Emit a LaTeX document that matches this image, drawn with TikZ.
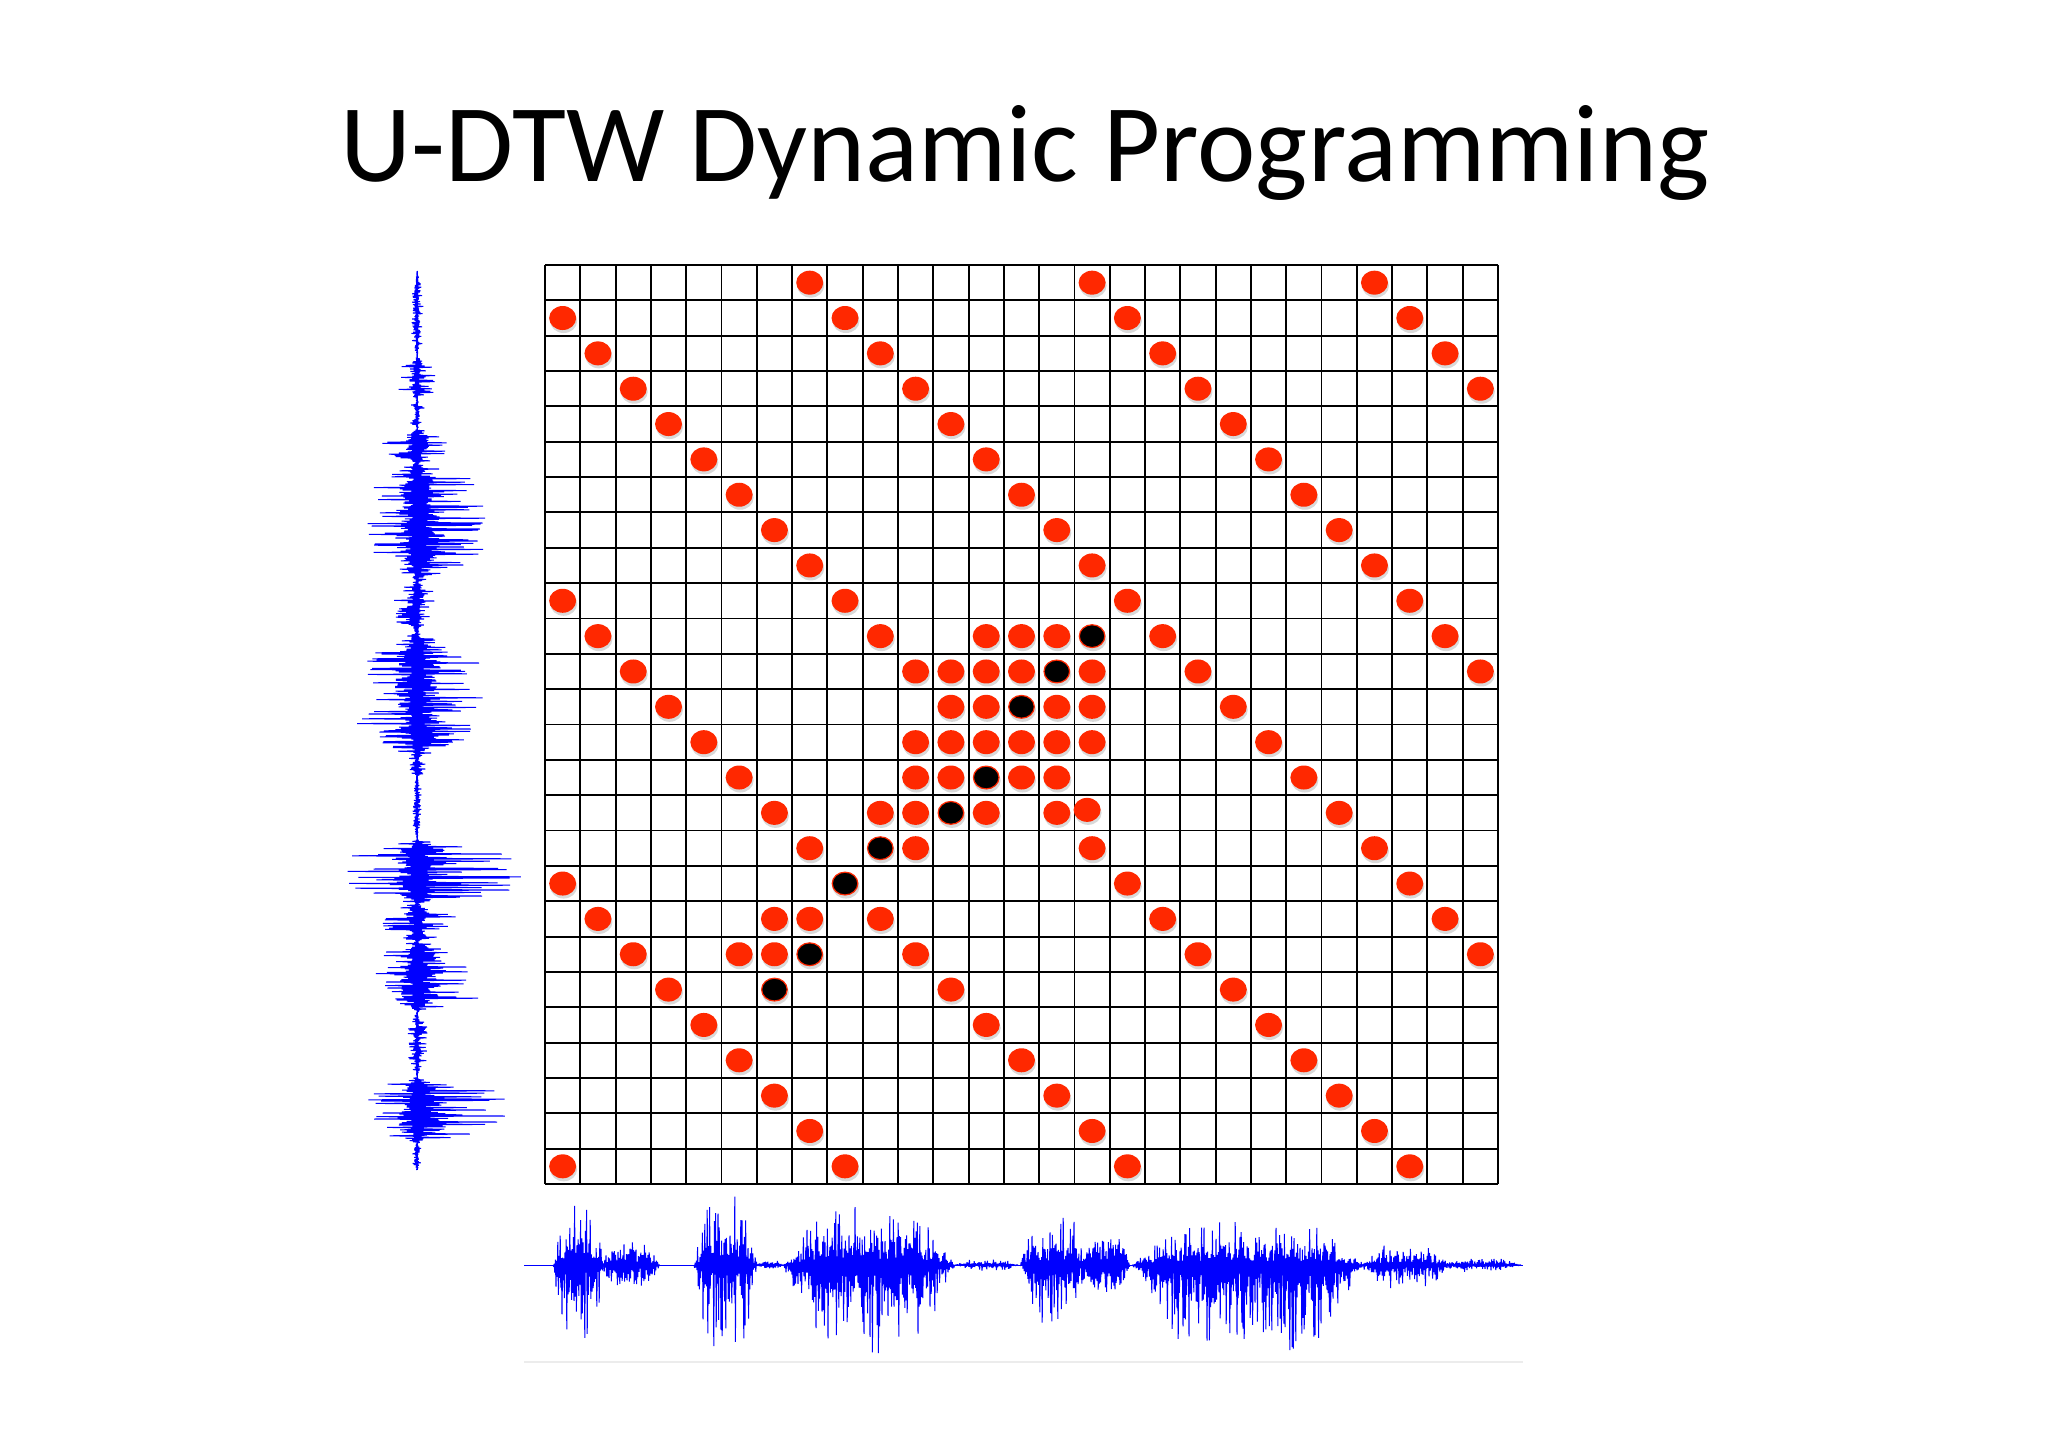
\documentclass[tikz,border=0pt]{standalone}
\usepackage{fontspec}
\setmainfont{Carlito}
\definecolor{dotred}{RGB}{255,40,0}
\definecolor{wblue}{RGB}{0,0,255}
\newcommand\dotrows{0/{7,15,23},1/{0,8,16,24},2/{1,9,17,25},3/{2,10,18,26},4/{3,11,19},5/{4,12,20},6/{5,13,21},7/{6,14,22},8/{7,15,23},9/{0,8,16,24},10/{1,9,12,13,14,17,25},11/{2,10,11,12,13,15,18,26},12/{3,11,12,14,15,19},13/{4,10,11,12,13,14,15,20},14/{5,10,11,13,14,21},15/{6,9,10,12,14,22},16/{7,10,15,23},17/{0,16,24},18/{1,6,7,9,17,25},19/{2,5,6,10,18,26},20/{3,11,19},21/{4,12,20},22/{5,13,21},23/{6,14,22},24/{7,15,23},25/{0,8,16,24}}
\newcommand\pathdots{15/10,14/11,13/12,12/14,11/15,9/16,8/17,7/19,6/20}
% bottom waveform bursts: start/end/core/spike/down-factor
\newcommand\bursthor{553/604/28/40/1.3,600/660/16/9/1.1,694/758/30/42/1.3,757/783/3/2/1,783/955/30/32/1.5,955/1018/3/3/1,988/996/2/10/1,1020/1088/22/30/1.2,1082/1130/26/12/1,1132/1365/20/25/2.0,1360/1450/10/10/1.2,1440/1521/4/4/1}
% left waveform bursts: start/end/core/spike/right-factor
\newcommand\burstver{271/357/3/3/1.2,357/399/8/11/1.2,399/429/3/5/1,429/464/12/25/1.05,460/583/22/37/1.3,580/633/12/12/0.8,630/762/22/40/1.07,760/776/8/2/1,774/839/3/2/1,839/905/28/46/1.43,903/942/14/26/1.15,940/1012/18/28/1.6,1012/1077/4/6/1.2,1077/1143/20/37/1.65,1143/1170/3/2/1}
\tikzset{
  gridl/.style={line width=1.9pt, black},
  reddot/.style={fill=dotred},
  dotshade/.style={fill=black, opacity=0.15},
  pathdot/.style={fill=black, draw=dotred, line width=1.2pt},
  wave/.style={wblue, line width=1pt, line join=bevel},
  titlefont/.style={font=\fontsize{110.5}{132}\selectfont}
}
\begin{document}
\begin{tikzpicture}[x=1pt,y=-1pt]
\useasboundingbox[fill=white] (0,0) rectangle (2048,1447);
\pgfmathsetseed{7}
% title
\node[titlefont, anchor=base] (title) at (1025,182) {U-DTW Dynamic Programming};
% grid
\foreach \i in {0,...,27} \draw[gridl] ({545+\i*35.2963},265) -- ({545+\i*35.2963},1184);
\foreach \j in {0,...,26} \draw[gridl] (545,{265+\j*35.3462}) -- (1498,{265+\j*35.3462});
% shadows
\foreach \r/\cl in \dotrows {\foreach \c in \cl {
  \fill[dotshade] ({562.65+35.296*\c+1},{282.67+35.346*\r+3}) ellipse [x radius=13.5, y radius=12];}}
\foreach \c/\r in \pathdots {
  \fill[dotshade] ({562.65+35.296*\c+1},{282.67+35.346*\r+3}) ellipse [x radius=13.5, y radius=12];}
\fill[dotshade] ({562.65+35.296*15-4},{282.67+35.346*15}) ellipse [x radius=13.5, y radius=12];
% red dots
\foreach \r/\cl in \dotrows {\foreach \c in \cl {
  \fill[reddot] ({562.65+35.296*\c},{282.67+35.346*\r}) ellipse [x radius=13.5, y radius=12];}}
\fill[reddot] ({562.65+35.296*15-5},{282.67+35.346*15-3}) ellipse [x radius=13.5, y radius=12];
% warping path
\foreach \c/\r in \pathdots {
  \draw[pathdot] ({562.65+35.296*\c},{282.67+35.346*\r}) ellipse [x radius=12.8, y radius=11.4];}
% bottom waveform
\draw[gray!15, line width=1.5pt] (524,1362) -- (1523,1362);
\draw[wave] (524,1265) -- (1523,1265);
\foreach \a/\d/\co/\sp/\df in \bursthor {
  \pgfmathsetmacro\LL{\d-\a}
  \pgfmathtruncatemacro\NN{\LL/0.6}
  \pgfmathtruncatemacro\NP{\NN+1}
  \pgfmathsetmacro\fa{(1+\df)/2}
  \pgfmathsetmacro\fb{(\df-1)/2}
  \draw[wave] plot[variable=\t, domain=0:\NN, samples=\NP]
    ({\a+0.6*\t}, {1265-(1-2*mod(\t,2))*min(1,1.6*abs(sin(180*min(1,0.6*\t/\LL))))*(\co*(0.2+0.8*rnd)+(rnd>0.72)*\sp*(0.5+0.5*rnd))*(\fa-\fb*(1-2*mod(\t,2)))});
}
% left waveform
\draw[wave] (417,271) -- (417,1170);
\foreach \a/\d/\co/\sp/\df in \burstver {
  \pgfmathsetmacro\LL{\d-\a}
  \pgfmathtruncatemacro\NN{\LL/0.6}
  \pgfmathtruncatemacro\NP{\NN+1}
  \pgfmathsetmacro\fa{(1+\df)/2}
  \pgfmathsetmacro\fb{(\df-1)/2}
  \draw[wave] plot[variable=\t, domain=0:\NN, samples=\NP]
    ({417-(1-2*mod(\t,2))*min(1,1.6*abs(sin(180*min(1,0.6*\t/\LL))))*(\co*(0.2+0.8*rnd)+(rnd>0.72)*\sp*(0.5+0.5*rnd))*(\fa-\fb*(1-2*mod(\t,2)))}, {\a+0.6*\t});
}
\end{tikzpicture}
\end{document}
